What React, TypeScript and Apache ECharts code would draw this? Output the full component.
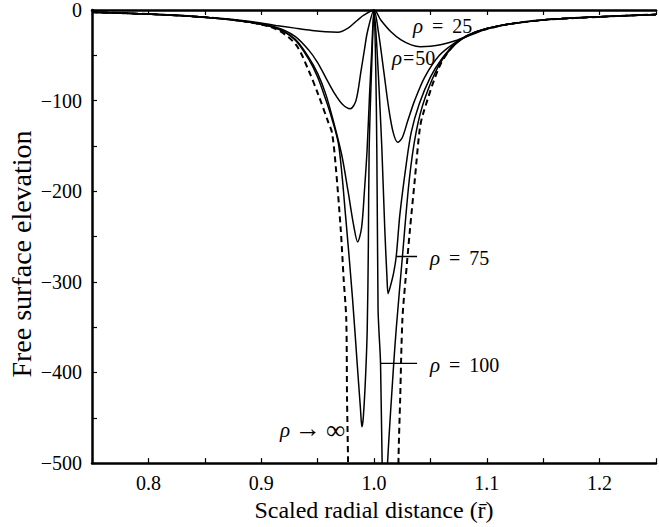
import React, { useEffect, useRef } from "react";
import * as echarts from "echarts";

const FONT = "'Liberation Serif', 'Times New Roman', serif";

// x ticks every 0.05, labels every 0.1
const xTickLabels = ["0.8", "0.9", "1.0", "1.1", "1.2"];
const yTickLabels = ["0", "−100", "−200", "−300", "−400", "−500"];

const rho25X = [0.75, 0.8, 0.85, 0.887, 0.913, 0.93, 0.945, 0.957, 0.968, 0.977, 0.9855, 0.9913, 1.0, 1.006, 1.015, 1.024, 1.033, 1.041, 1.05, 1.06, 1.072, 1.085, 1.1, 1.12, 1.15, 1.2, 1.25];
const rho25Y = [-2.5, -4.5, -8, -12, -17, -20, -22.5, -24, -24.5, -20, -11, -5.5, 0, -11, -24, -33, -38.5, -40.5, -40, -38, -34, -28, -21, -15.5, -11, -7.5, -5];

const rho50X = [0.75, 0.8, 0.85, 0.887, 0.913, 0.93, 0.942, 0.95, 0.957, 0.965, 0.972, 0.979, 0.984, 0.9884, 0.9915, 0.9942, 1.0, 1.004, 1.0087, 1.013, 1.017, 1.021, 1.025, 1.03, 1.036, 1.045, 1.058, 1.072, 1.085, 1.1, 1.12, 1.15, 1.2, 1.25];
const rho50Y = [-2.5, -4.5, -8, -13, -19, -29, -44, -58, -74, -92, -104, -109, -100, -68, -44, -24, 0, -25, -68, -108, -135, -146, -141, -122, -100, -74, -50, -36, -27, -20.5, -15.5, -11, -7.5, -5];

const rho75X = [0.75, 0.8, 0.85, 0.887, 0.913, 0.93, 0.942, 0.95, 0.957, 0.963, 0.9714, 0.977, 0.982, 0.9855, 0.989, 0.9915, 0.9939, 0.996, 0.998, 1.0, 1.0025, 1.005, 1.007, 1.0095, 1.0115, 1.0125, 1.0145, 1.0174, 1.0197, 1.023, 1.0286, 1.033, 1.04, 1.05, 1.06, 1.072, 1.085, 1.1, 1.12, 1.15, 1.2, 1.25];
const rho75Y = [-2.5, -4.5, -8, -13, -20, -32, -52, -70, -92, -118, -160, -200, -238, -256, -240, -200, -154, -95, -45, 0, -40, -100, -154, -240, -295, -313, -305, -290, -272, -225, -170, -135, -104, -74, -54, -37, -27, -20.5, -15.5, -11, -7.5, -5];

const rho100X = [0.75, 0.8, 0.85, 0.887, 0.913, 0.93, 0.942, 0.95, 0.957, 0.9627, 0.9688, 0.975, 0.981, 0.9852, 0.988, 0.9893, 0.9905, 0.9925, 0.994, 0.995, 0.9957, 0.998, 1.0, 1.0015, 1.0025, 1.0036, 1.0043, 1.0058, 1.0072, 1.009, 1.0105, 1.0121, 1.0175, 1.0197, 1.0252, 1.0313, 1.0373, 1.045, 1.058, 1.072, 1.085, 1.1, 1.12, 1.15, 1.2, 1.25];
const rho100Y = [-2.5, -4.5, -8, -13, -20, -33, -54, -74, -98, -120, -150, -230, -319, -392, -440, -460, -450, -405, -352, -260, -154, -60, 0, -60, -154, -330, -352, -390, -498, -560, -560, -498, -390, -352, -272, -187, -135, -98, -60, -38, -27, -20.5, -15.5, -11, -7.5, -5];

const rhoInfLeftX = [0.75, 0.8, 0.85, 0.887, 0.913, 0.9306, 0.9418, 0.9505, 0.9592, 0.9627, 0.9659, 0.9705, 0.9731, 0.9754, 0.9761, 0.977, 0.9775];
const rhoInfLeftY = [-2.5, -4.5, -8, -13, -21, -38, -66, -93, -123, -135, -170, -242, -297, -341, -429, -500, -600];
const rhoInfRightX = [1.0212, 1.0217, 1.0232, 1.0252, 1.028, 1.0319, 1.0362, 1.0405, 1.0434, 1.0582, 1.072, 1.085, 1.1, 1.12, 1.15, 1.2, 1.25];
const rhoInfRightY = [-600, -498, -429, -341, -297, -242, -187, -132, -115, -62, -37, -27, -21, -15.5, -11, -7.5, -5];

const leader75X = [1.0197, 1.0382];
const leader75Y = [-272, -272];
const leader100X = [1.0058, 1.0382];
const leader100Y = [-390, -390];

const labelTexts = ["{i|ρ} {e|=} 25", "{i|ρ}{t|=}50", "{i|ρ} {e|=} 75", "{i|ρ} {e|=} 100", "{i|ρ} {a|→} {b|∞}"];
const xTitle = "Scaled radial distance (r̄)";
const yTitle = "Free surface elevation";

const pairs = (xs: number[], ys: number[]) => xs.map((x, i) => [x, ys[i]]);

export default function App() {
  const ref = useRef<HTMLDivElement>(null);
  useEffect(() => {
    if (!ref.current) return;
    const chart = echarts.init(ref.current, undefined, { renderer: "svg" });
    const solid = (name: string, xs: number[], ys: number[]) => ({
      name,
      type: "line",
      data: pairs(xs, ys),
      showSymbol: false,
      smooth: 0.3,
      lineStyle: { color: "#000", width: 1.5 },
      z: 3,
    });
    const dashed = (name: string, xs: number[], ys: number[]) => ({
      name,
      type: "line",
      data: pairs(xs, ys),
      showSymbol: false,
      smooth: 0.3,
      lineStyle: { color: "#000", width: 2, type: [6, 4] },
      z: 2,
    });
    const leader = (name: string, xs: number[], ys: number[]) => ({
      name,
      type: "line",
      data: pairs(xs, ys),
      showSymbol: false,
      lineStyle: { color: "#000", width: 1.3 },
      z: 4,
    });
    const isTenth = (v: number) => Math.abs(v * 10 - Math.round(v * 10)) < 1e-6;
    const mkText = (t: string, x: number, y: number) => ({
      type: "text",
      x,
      y,
      style: {
        text: t,
        fontFamily: FONT,
        fontSize: 20,
        fill: "#000",
        verticalAlign: "middle",
        align: "left",
        rich: {
          i: { fontStyle: "italic", fontFamily: FONT, fontSize: 21, verticalAlign: "middle" },
          e: { fontFamily: FONT, fontSize: 20, padding: [0, 4], verticalAlign: "middle" },
          t: { fontFamily: FONT, fontSize: 20, padding: [0, 1], verticalAlign: "middle" },
          a: { fontFamily: FONT, fontSize: 26, verticalAlign: "middle", padding: [0, 0, 3, 0] },
          b: { fontFamily: FONT, fontSize: 27, verticalAlign: "middle" },
        },
      },
      z: 10,
    });
    const option = {
      animation: false,
      grid: { left: 92, top: 10, width: 576, height: 455, containLabel: false },
      xAxis: [
        {
          type: "value",
          min: 0.75,
          max: 1.25,
          interval: 0.05,
          position: "bottom",
          name: xTitle,
          nameLocation: "middle",
          nameGap: 33,
          nameTextStyle: { fontFamily: FONT, fontSize: 24, color: "#000" },
          axisLine: { show: true, onZero: false, lineStyle: { color: "#000", width: 2.5 } },
          axisTick: { show: true, inside: true, length: 5, lineStyle: { color: "#000", width: 1.2 } },
          axisLabel: {
            margin: 10,
            fontFamily: FONT,
            fontSize: 20,
            color: "#000",
            formatter: (v: number) => {
              if (!isTenth(v) || v < 0.79 || v > 1.21) return "";
              const idx = Math.round((v - 0.8) * 10);
              return xTickLabels[idx] ?? "";
            },
          },
          splitLine: { show: false },
        },
        {
          type: "value",
          min: 0.75,
          max: 1.25,
          interval: 0.05,
          position: "top",
          axisLine: { show: true, onZero: false, lineStyle: { color: "#000", width: 2.5 } },
          axisTick: { show: true, inside: true, length: 5, lineStyle: { color: "#000", width: 1.2 } },
          axisLabel: { show: false },
          splitLine: { show: false },
        },
      ],
      yAxis: {
        type: "value",
        min: -500,
        max: 0,
        interval: 50,
        axisLine: { show: true, onZero: false, lineStyle: { color: "#000", width: 2.5 } },
        axisTick: { show: true, inside: true, length: 5, lineStyle: { color: "#000", width: 1.2 } },
        axisLabel: {
          margin: 10,
          fontFamily: FONT,
          fontSize: 20,
          color: "#000",
          formatter: (v: number) => {
            if (Math.round(v) % 100 !== 0) return "";
            return yTickLabels[Math.round(-v / 100)] ?? "";
          },
        },
        splitLine: { show: false },
      },
      series: [
        solid("ρ = 25", rho25X, rho25Y),
        solid("ρ = 50", rho50X, rho50Y),
        solid("ρ = 75", rho75X, rho75Y),
        solid("ρ = 100", rho100X, rho100Y),
        dashed("ρ → ∞", rhoInfLeftX, rhoInfLeftY),
        dashed("ρ → ∞ (right)", rhoInfRightX, rhoInfRightY),
        leader("leader 75", leader75X, leader75Y),
        leader("leader 100", leader100X, leader100Y),
      ],
      graphic: [
        mkText(labelTexts[0], 413, 26),
        mkText(labelTexts[1], 392, 58),
        mkText(labelTexts[2], 430, 258),
        mkText(labelTexts[3], 430, 365),
        mkText(labelTexts[4], 280, 430),
        {
          type: "text",
          x: 21,
          y: 254,
          rotation: Math.PI / 2,
          style: {
            text: yTitle,
            fontFamily: FONT,
            fontSize: 28,
            fill: "#000",
            align: "center",
            verticalAlign: "middle",
          },
        },
      ],
    };
    chart.setOption(option as any);
    return () => chart.dispose();
  }, []);
  return (
    <div
      ref={ref}
      style={{ position: "absolute", left: 0, top: 0, width: 659, height: 527, background: "#fff" }}
    />
  );
}
